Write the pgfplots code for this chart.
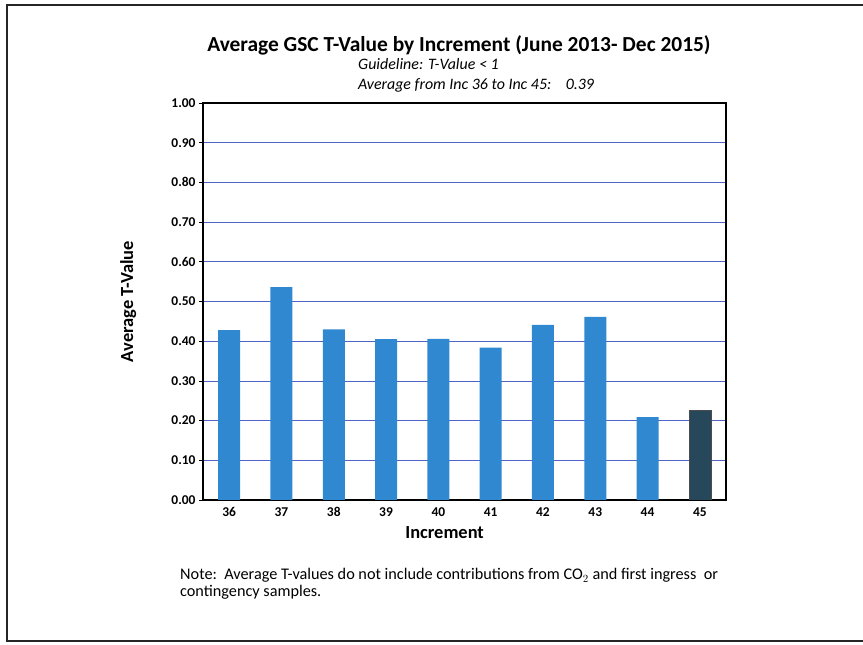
\documentclass[border=0pt]{standalone}
\usepackage{pgfplots}
\pgfplotsset{compat=1.18}
\usepackage{fontspec}
\setmainfont{Carlito}
\definecolor{barblue}{RGB}{47,136,208}
\definecolor{bardark}{RGB}{38,72,90}
\definecolor{gridblue}{RGB}{80,100,200}
\begin{document}
\begin{tikzpicture}[x=1bp,y=1bp]
\useasboundingbox (0,0) rectangle (863,645);
\draw[line width=2bp, black!85] (863,640) -- (7,640) -- (7,4) -- (863,4);
\node[font=\bfseries\fontsize{21.5}{24}\selectfont, anchor=base] at (459,593) {Average GSC T-Value by Increment (June 2013- Dec 2015)};
\node[font=\itshape\fontsize{16}{18}\selectfont, anchor=base west, inner sep=0pt] at (358,575) {Guideline: T-Value < 1};
\node[font=\itshape\fontsize{16}{18}\selectfont, anchor=base west, inner sep=0pt] at (358,555) {Average from Inc 36 to Inc 45:\hspace{0.9em}0.39};
\node[font=\fontsize{16.3}{18}\selectfont, anchor=base west, inner sep=0pt] at (180,65) {Note:\ \ Average T-values do not include contributions from CO$_2$ and first ingress\ \ or};
\node[font=\fontsize{16.3}{18}\selectfont, anchor=base west, inner sep=0pt] at (180,48) {contingency samples.};
\begin{axis}[
  at={(203bp,145bp)}, anchor=south west,
  scale only axis, width=523bp, height=397bp,
  xmin=-0.5, xmax=9.5, ymin=0, ymax=1,
  xtick={0,1,2,3,4,5,6,7,8,9}, xticklabels={36,37,38,39,40,41,42,43,44,45},
  ytick={0,0.1,0.2,0.3,0.4,0.5,0.6,0.7,0.8,0.9,1.0},
  /pgf/number format/assume math mode=true,
  yticklabel style={/pgf/number format/.cd, fixed, fixed zerofill, precision=2},
  ticklabel style={font=\bfseries\fontsize{13.5}{15}\selectfont},
  xtick style={draw=none},
  ytick style={black, line width=0.6bp},
  ytick pos=left,
  tick align=outside, major tick length=4bp,
  axis line style={line width=1.2bp, black},
  ymajorgrids, major grid style={gridblue, line width=0.6bp},
  xlabel={Increment}, ylabel={Average T-Value},
  xlabel style={font=\bfseries\fontsize{18.5}{21}\selectfont, at={(axis description cs:0.462,-0.083)}, anchor=center},
  ylabel style={font=\bfseries\fontsize{18.5}{21}\selectfont, at={(axis description cs:-0.143,0.5)}, anchor=center},
  ]
\addplot[ybar, bar width=22bp, bar shift=0pt, fill=barblue, draw=none] coordinates {
 (0,0.428) (1,0.536) (2,0.430) (3,0.405) (4,0.406) (5,0.384) (6,0.441) (7,0.461) (8,0.209)};
\addplot[ybar, bar width=22bp, bar shift=0pt, fill=bardark, draw=black!70, line width=0.5bp] coordinates {
 (9,0.225)};
\end{axis}
\end{tikzpicture}
\end{document}
